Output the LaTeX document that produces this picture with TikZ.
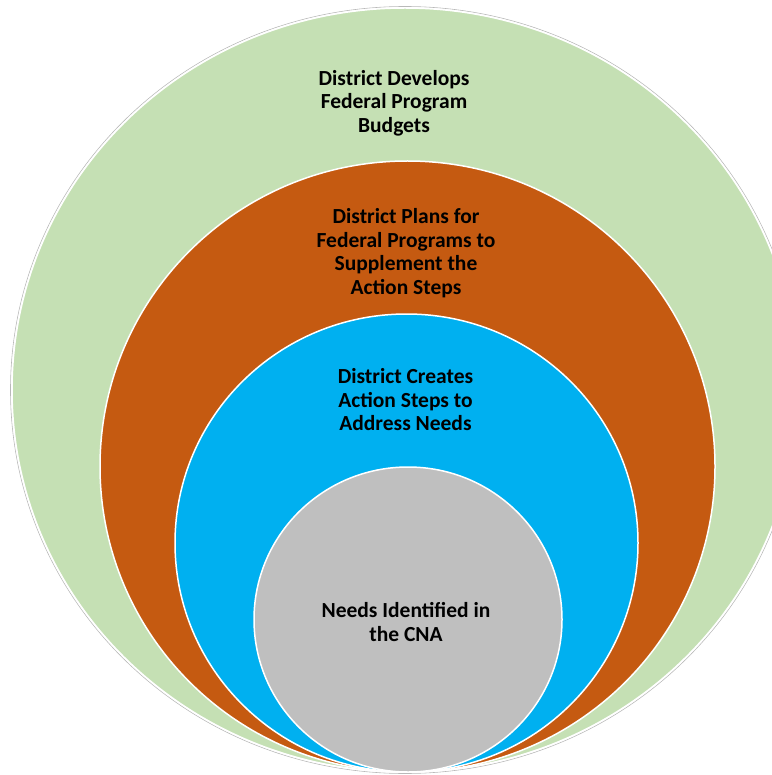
\documentclass[tikz,border=0pt]{standalone}
\usepackage{fontspec}
\setmainfont{Carlito}
\usetikzlibrary{shapes.geometric}
\definecolor{budgetgreen}{HTML}{C5E0B4}
\definecolor{planbrown}{HTML}{C55A11}
\definecolor{stepblue}{HTML}{00B0F0}
\definecolor{needgray}{HTML}{BFBFBF}
\tikzset{
  ring/.style={draw=white,line width=1.5pt},
  ringtext/.style={align=center,inner sep=0pt,font=\fontsize{21.5}{23.5}\selectfont\bfseries}
}
\begin{document}
\begin{tikzpicture}[x=1pt,y=-1pt]
		\useasboundingbox (0,0) rectangle (771,775);
		\draw[gray!55,line width=0.6pt] (405,390) ellipse (394.5 and 383.5);
		\draw[ring,fill=budgetgreen] (405,390) ellipse (393 and 382);
		\draw[ring,fill=planbrown] (407.5,466.5) ellipse (307.5 and 305.5);
		\draw[ring,fill=stepblue] (406.5,543) ellipse (231.5 and 229);
		\draw[ring,fill=needgray] (408,619.5) ellipse (154 and 152.5);
		\node[ringtext] (budgets) at (394,103) {District Develops\\Federal Program\\Budgets};
		\node[ringtext] (plans) at (406,253) {District Plans for\\Federal Programs to\\Supplement the\\Action Steps};
		\node[ringtext] (steps) at (405.5,400) {District Creates\\Action Steps to\\Address Needs};
		\node[ringtext] (needs) at (406,622) {Needs Identified in\\the CNA};
	\end{tikzpicture}
\end{document}
